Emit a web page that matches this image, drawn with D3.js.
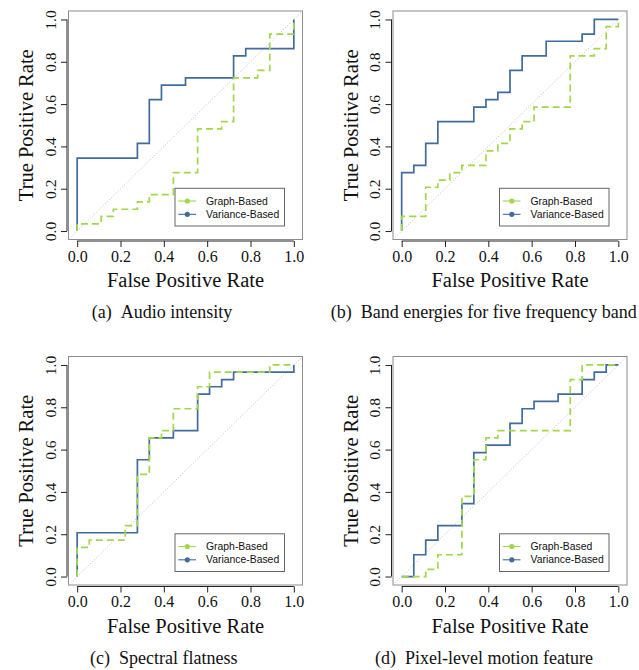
<!DOCTYPE html>
<html>
<head>
<meta charset="utf-8">
<script src="https://cdn.jsdelivr.net/npm/d3@7"></script>
<style>
  body { margin: 0; background: #fff; }
  text { fill: #111; }
</style>
</head>
<body>
<svg id="roc"></svg>
<script>
// tick values, legend names and captions
var tickValues = [0, 0.2, 0.4, 0.6, 0.8, 1.0]
var seriesNames = ['Graph-Based', 'Variance-Based']
var subLabels = ['(a)', '(b)', '(c)', '(d)']
var subTitles = ['Audio intensity', 'Band energies for five frequency band', 'Spectral flatness', 'Pixel-level motion feature']

// ROC points [fpr, tpr]
var audioGraph = [[0, 0], [0, 0.034], [0.111, 0.069], [0.167, 0.103], [0.278, 0.138], [0.333, 0.172], [0.444, 0.276], [0.556, 0.483], [0.667, 0.517], [0.722, 0.724], [0.833, 0.759], [0.889, 0.931], [1, 1]]
var audioVariance = [[0, 0], [0, 0.345], [0.278, 0.414], [0.333, 0.621], [0.389, 0.690], [0.5, 0.724], [0.722, 0.828], [0.778, 0.862], [1, 1]]

var bandGraph = [[0, 0], [0, 0.069], [0.111, 0.207], [0.167, 0.241], [0.222, 0.276], [0.278, 0.310], [0.389, 0.379], [0.444, 0.414], [0.5, 0.483], [0.556, 0.517], [0.611, 0.586], [0.778, 0.828], [0.889, 0.862], [0.944, 0.966], [1, 1]]
var bandVariance = [[0, 0], [0, 0.276], [0.056, 0.310], [0.111, 0.414], [0.167, 0.517], [0.333, 0.586], [0.389, 0.621], [0.444, 0.655], [0.5, 0.759], [0.556, 0.828], [0.667, 0.897], [0.833, 0.931], [0.889, 1], [1, 1]]

var flatGraph = [[0, 0], [0, 0.138], [0.056, 0.172], [0.222, 0.241], [0.278, 0.483], [0.333, 0.655], [0.389, 0.690], [0.444, 0.793], [0.556, 0.897], [0.611, 0.966], [0.889, 1], [1, 1]]
var flatVariance = [[0, 0], [0, 0.207], [0.278, 0.552], [0.333, 0.655], [0.444, 0.690], [0.556, 0.862], [0.611, 0.897], [0.667, 0.931], [0.722, 0.966], [1, 1]]

var motionGraph = [[0, 0], [0.111, 0.034], [0.167, 0.103], [0.278, 0.379], [0.333, 0.552], [0.389, 0.655], [0.444, 0.690], [0.778, 0.931], [0.833, 1], [1, 1]]
var motionVariance = [[0, 0], [0.056, 0.103], [0.111, 0.172], [0.167, 0.241], [0.278, 0.345], [0.333, 0.586], [0.389, 0.621], [0.5, 0.724], [0.556, 0.793], [0.611, 0.828], [0.722, 0.862], [0.833, 0.931], [0.889, 0.966], [0.944, 1], [1, 1]]

var graphSeries = [audioGraph, bandGraph, flatGraph, motionGraph]
var varianceSeries = [audioVariance, bandVariance, flatVariance, motionVariance]

var color = {'Graph-Based': '#a3d64b', 'Variance-Based': '#3f6c9c'}
var serif = 'Liberation Serif, Times New Roman, serif'

var svg = d3.select('#roc').attr('width', 639).attr('height', 670)

// R style: axis range padded 4% each side
var x = d3.scaleLinear().domain([-0.04, 1.04]).range([68.5, 302.5])
var y = d3.scaleLinear().domain([-0.04, 1.04]).range([239.5, 11])

var offsets = [[0, 0], [324.5, 0], [0, 345.5], [324.5, 345.5]]
var captionStart = [91.7, 330.7, 90, 375]

var line = d3.line().x(d => x(d[0])).y(d => y(d[1])).curve(d3.curveStepAfter)

subLabels.forEach(function (lab, i) {
  var g = svg.append('g').attr('transform', 'translate(' + offsets[i][0] + ',' + offsets[i][1] + ')')

  // plot box
  g.append('rect').attr('x', x.range()[0]).attr('y', y.range()[1])
    .attr('width', x.range()[1] - x.range()[0]).attr('height', y.range()[0] - y.range()[1])
    .attr('fill', 'none').attr('stroke', '#8c8c8c').attr('stroke-width', 1)

  // chance diagonal
  g.append('line')
    .attr('x1', x(-0.04)).attr('y1', y(-0.04)).attr('x2', x(1.04)).attr('y2', y(1.04))
    .attr('stroke', '#b5b5b5').attr('stroke-width', 0.9).attr('stroke-dasharray', '1,2')

  // y axis
  var ya = g.append('g').attr('transform', 'translate(67,0)')
    .call(d3.axisLeft(y).tickValues(tickValues).tickSize(6).tickFormat(d3.format('.1f')))
  ya.select('.domain').remove()
  ya.append('line').attr('y1', y(0)).attr('y2', y(1)).attr('stroke', '#222')
  ya.selectAll('.tick line').attr('stroke', '#222')
  ya.selectAll('.tick text')
    .attr('x', 0).attr('dy', 0)
    .attr('transform', 'translate(-11.5,0) rotate(-90)')
    .attr('text-anchor', 'middle')
    .style('font-family', serif).style('font-size', '15.5px').attr('fill', '#111')

  // x axis
  var xa = g.append('g').attr('transform', 'translate(0,241)')
    .call(d3.axisBottom(x).tickValues(tickValues).tickSize(6).tickFormat(d3.format('.1f')))
  xa.select('.domain').remove()
  xa.append('line').attr('x1', x(0)).attr('x2', x(1)).attr('stroke', '#222')
  xa.selectAll('.tick line').attr('stroke', '#222')
  xa.selectAll('.tick text')
    .attr('y', 20.5).attr('dy', 0)
    .style('font-family', serif).style('font-size', '16px').attr('fill', '#111')

  // axis titles
  g.append('text').attr('transform', 'translate(33,125.25) rotate(-90)')
    .attr('text-anchor', 'middle').style('font-family', serif).style('font-size', '20.5px')
    .text('True Positive Rate')
  g.append('text').attr('x', 185.5).attr('y', 287.3)
    .attr('text-anchor', 'middle').style('font-family', serif).style('font-size', '20.5px')
    .text('False Positive Rate')

  // curves
  g.append('path').datum(varianceSeries[i]).attr('d', line)
    .attr('fill', 'none').attr('stroke', color['Variance-Based']).attr('stroke-width', 1.7)
  g.append('path').datum(graphSeries[i]).attr('d', line)
    .attr('fill', 'none').attr('stroke', color['Graph-Based']).attr('stroke-width', 1.7)
    .attr('stroke-dasharray', '7,4')

  // legend
  var lg = g.append('g').attr('transform', 'translate(175,188.3)')
  lg.append('rect').attr('width', 109.5).attr('height', 37.7)
    .attr('fill', '#fff').attr('stroke', '#666').attr('stroke-width', 1)
  seriesNames.forEach(function (name, j) {
    var ly = 12.7 + j * 13.3
    lg.append('line').attr('x1', 3.3).attr('x2', 21).attr('y1', ly).attr('y2', ly)
      .attr('stroke', color[name]).attr('stroke-width', 1.1)
    lg.append('circle').attr('cx', 12.3).attr('cy', ly).attr('r', 2.6).attr('fill', color[name])
    lg.append('text').attr('x', 31).attr('y', ly).attr('dy', '0.35em')
      .style('font-family', 'Liberation Sans, Arial, sans-serif').style('font-size', '10.4px')
      .attr('fill', '#222').text(name)
  })

  // caption
  var cap = svg.append('text')
    .attr('x', captionStart[i]).attr('y', 318.3 + offsets[i][1])
    .style('font-family', serif).style('font-size', '18px')
  cap.append('tspan').text(lab)
  cap.append('tspan').attr('dx', 9).text(subTitles[i])
})
</script>
</body>
</html>
